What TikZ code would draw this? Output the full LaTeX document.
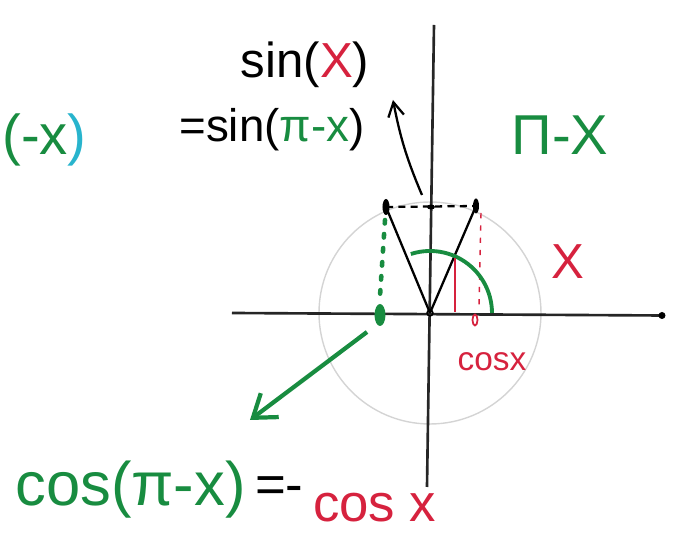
\documentclass[tikz,border=0pt]{standalone}
\usepackage{fontspec}
\setmainfont{Liberation Sans}
\usepackage{tikz}
\usepackage{xcolor}
\usetikzlibrary{arrows.meta}

\definecolor{penGreen}{RGB}{24,140,64}
\definecolor{penRed}{RGB}{214,34,62}
\definecolor{penCyan}{RGB}{40,180,205}
\definecolor{penGray}{RGB}{212,212,212}

\begin{document}
\begin{tikzpicture}[
  axis/.style={line width=1.5pt,black!85},
  leg/.style={line width=1.3pt,black},
  hand/.style={inner sep=0pt,font=\fontsize{#1}{#1}\selectfont}
]
\useasboundingbox (-8.6,-4.66) rectangle (4.96,6.26);

% axes and unit circle
\coordinate (O) at (0,0);
\coordinate (xl) at (-3.96,0);
\coordinate (xr) at (4.64,-0.05);
\coordinate (yt) at (0.08,5.76);
\coordinate (yb) at (-0.06,-3.48);
\draw[penGray,line width=0.8pt] (O) circle (2.22);
\draw[axis] (xl) -- (xr);
\draw[axis] (yb) -- (yt);
\fill (xr) circle (0.07);
\draw[line width=0.8pt] (O) circle (0.06);

% the two points x and pi-x
\coordinate (P) at (-0.88,2.12);
\coordinate (Q) at (0.92,2.14);
\coordinate (M) at (0.02,2.12);
\coordinate (G) at (-1.0,-0.04);
\coordinate (R) at (0.9,-0.14);
\draw[leg] (O) -- (P);
\draw[leg] (O) -- (Q);
\draw[leg,dash pattern=on 4pt off 3pt] (P) -- (Q);
\fill (P) ellipse (0.07 and 0.16);
\fill (Q) ellipse (0.06 and 0.15);
\fill (M) ellipse (0.08 and 0.05);

% projections
\draw[penGreen,line width=2.6pt,line cap=round,dash pattern=on 2pt off 6pt] (-0.9,1.86) -- (-1.0,0.34);
\fill[penGreen] (G) ellipse (0.11 and 0.22);
\draw[penRed,line width=0.8pt,dash pattern=on 3pt off 4pt] (1.02,2.0) -- (0.98,0.12);
\draw[penRed,line width=1pt] (R) ellipse (0.05 and 0.11);

% angles
\draw[penGreen,line width=2.2pt] (1.24,0) arc[start angle=0,end angle=108,radius=1.24];
\draw[penRed,line width=1.6pt] (0.5,0.02) -- (0.5,1.1);

% arrows to the formulas
\coordinate (sinS) at (-0.16,2.36);
\coordinate (sinE) at (-0.74,4.26);
\draw[leg,-{Straight Barb[length=8pt,width=9pt]}] (sinS) to[bend left=6] (sinE);
\coordinate (cosS) at (-1.26,-0.38);
\coordinate (cosE) at (-3.6,-2.14);
\draw[penGreen,line width=2.4pt,-{Straight Barb[length=12pt,width=17pt]}] (cosS) -- (cosE);

% labels
\node[hand=28] (sinx) at (-2.5,4.96) {sin(\textcolor{penRed}{X})};
\node[hand=26] (sinpi) at (-3.16,3.66) {=sin(\textcolor{penGreen}{π-x})};
\node[hand=32,anchor=west] (cut) at (-8.56,3.46) {\textcolor{penGreen}{(-x}\textcolor{penCyan}{)}};
\node[hand=32,penGreen] (pix) at (2.6,3.56) {Π-X};
\node[hand=28,penRed] (xlbl) at (2.76,1.02) {X};
\node[hand=19,penRed] (coslbl) at (1.24,-0.98) {cosx};
\node[hand=35,penGreen,anchor=west] (cospi) at (-8.3,-3.54) {cos(π-x)};
\node[hand=30,anchor=west] (eq) at (cospi.east) {\,=-\,};
\node[hand=30,penRed,anchor=west] (cosx) at ([yshift=-0.35cm]eq.east) {cos x};
\end{tikzpicture}
\end{document}
